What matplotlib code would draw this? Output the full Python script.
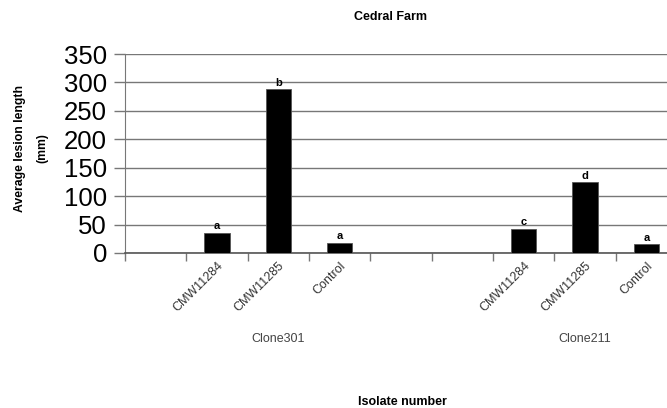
import matplotlib
matplotlib.use("Agg")
import matplotlib.pyplot as plt

plt.rcParams['font.family'] = ['Liberation Sans', 'DejaVu Sans']

# categories (blank slots are the gaps in the original chart)
categories = ["", "CMW11284", "CMW11285", "Control", "", "", "CMW11284", "CMW11285", "Control"]
lesion = [0, 35, 288, 18, 0, 0, 42, 124, 15]
letters = ["", "a", "b", "a", "", "", "c", "d", "a"]
groups = ["Clone301", "Clone211"]
group_pos = [2, 7]

fig = plt.figure(figsize=(6.67, 4.08), dpi=100)
ax = fig.add_axes([125/667, 155/408, 552/667, 199/408])

xs = list(range(len(categories)))
ax.bar(xs, lesion, width=0.41, color="black", edgecolor="#555555", linewidth=0.6, zorder=3)
for x, v, l in zip(xs, lesion, letters):
    if l:
        ax.text(x, v + 3, l, ha="center", va="bottom", fontsize=8, fontweight="bold", zorder=4)

ax.set_xlim(-0.5, len(categories) - 0.5)
ax.set_ylim(0, 350)
ax.set_yticks(range(0, 351, 50))
ax.tick_params(axis="y", labelsize=18.5, length=8, width=1, color="#777777", pad=5)
ax.yaxis.grid(True, color="#777777", linewidth=1, zorder=0)

# tick marks between categories, labels at the centres
ax.set_xticks([i - 0.5 for i in range(len(categories) + 1)])
ax.set_xticklabels([])
ax.set_xticks(xs, minor=True)
ax.set_xticklabels(categories, minor=True, rotation=45, ha="right", rotation_mode="anchor",
                   fontsize=9, color="#333333")
ax.tick_params(axis="x", which="major", length=6, width=1, color="#777777")
ax.tick_params(axis="x", which="minor", length=0, pad=5)

for s in ["top", "right"]:
    ax.spines[s].set_visible(False)
ax.spines["left"].set_color("#777777")
ax.spines["bottom"].set_color("#555555")
ax.spines["bottom"].set_linewidth(1.2)

for g, p in zip(groups, group_pos):
    ax.text(p, -152, g, ha="center", va="center", fontsize=9, color="#444444")

fig.text(390/667, 1 - 17/408, "Cedral Farm", ha="center", va="center", fontsize=9, fontweight="bold")
fig.text(402/667, 1 - 402/408, "Isolate number", ha="center", va="center", fontsize=9, fontweight="bold")
fig.text(31/667, 1 - 148/408, "Average lesion length\n(mm)", ha="center", va="center", rotation=90,
         fontsize=8.8, fontweight="bold", linespacing=2.1)

fig.savefig("out.png", dpi=100)
